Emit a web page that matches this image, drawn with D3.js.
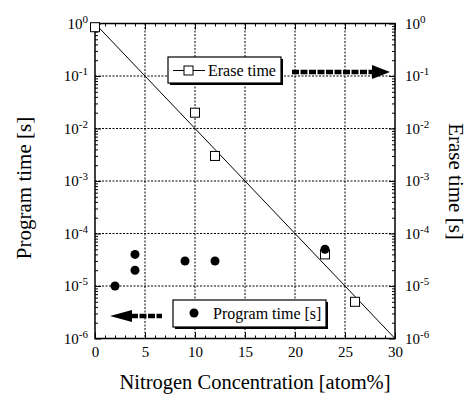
<!DOCTYPE html>
<html>
<head>
<meta charset="utf-8">
<script src="https://cdn.jsdelivr.net/npm/d3@7"></script>
<style>
  body { margin: 0; background: #fff; }
  svg { display: block; }
  svg text { font-family: "Liberation Serif", "Times New Roman", serif; fill: #000; }
</style>
</head>
<body>
<svg id="chart" width="471" height="395"></svg>
<script>
// data
const eraseN = [0, 10, 12, 23, 26];
const eraseTime = [0.85, 0.02, 0.003, 4e-5, 5e-6];
const programN = [2, 4, 4, 9, 12, 23];
const programTime = [1e-5, 4e-5, 2e-5, 3e-5, 3e-5, 5e-5];
const fitN = [0, 30];
const fitTime = [1, 1e-6];
const xTicks = [0, 5, 10, 15, 20, 25, 30];
const yExp = [0, -1, -2, -3, -4, -5, -6];

const FONT = '"Liberation Serif", "Times New Roman", serif';
const svg = d3.select('#chart');
const pLeft = 95, pRight = 395, pTop = 23.5, pBottom = 338.5;

const x = d3.scaleLinear().domain([0, 30]).range([pLeft, pRight]);
const y = d3.scaleLog().domain([1e-6, 1]).range([pBottom, pTop]);

const yMinor = [];
for (let e = -6; e < 0; e++) for (let k = 2; k <= 9; k++) yMinor.push(k * Math.pow(10, e));

// grid
const grid = svg.append('g').attr('stroke', '#000').attr('stroke-width', 1).attr('stroke-dasharray', '2,1.5');
grid.selectAll('.gx').data(xTicks.slice(1, -1)).enter().append('line')
  .attr('x1', d => x(d)).attr('x2', d => x(d)).attr('y1', pTop).attr('y2', pBottom);
grid.selectAll('.gy').data(yExp.slice(1, -1)).enter().append('line')
  .attr('x1', pLeft).attr('x2', pRight).attr('y1', d => y(Math.pow(10, d))).attr('y2', d => y(Math.pow(10, d)));

// axes ticks (inward)
function tickAxis(axis, tf) {
  const g = svg.append('g').attr('transform', tf).call(axis);
  g.select('.domain').remove();
  g.attr('font-family', FONT);
  g.selectAll('line').attr('stroke-width', 1);
  return g;
}
const xb = tickAxis(d3.axisBottom(x).tickValues(xTicks).tickSizeInner(-6).tickSizeOuter(0).tickPadding(8), `translate(0,${pBottom})`);
xb.selectAll('text').attr('font-size', 15).attr('fill', '#000');
tickAxis(d3.axisBottom(x).tickValues(d3.range(0, 31)).tickSize(-3).tickFormat(''), `translate(0,${pBottom})`);
tickAxis(d3.axisTop(x).tickValues(xTicks).tickSize(-6).tickFormat(''), `translate(0,${pTop})`);
tickAxis(d3.axisTop(x).tickValues(d3.range(0, 31)).tickSize(-3).tickFormat(''), `translate(0,${pTop})`);
const yDec = yExp.map(e => Math.pow(10, e));
tickAxis(d3.axisLeft(y).tickValues(yDec).tickSize(-6).tickFormat(''), `translate(${pLeft},0)`);
tickAxis(d3.axisLeft(y).tickValues(yMinor).tickSize(-3).tickFormat(''), `translate(${pLeft},0)`);
tickAxis(d3.axisRight(y).tickValues(yDec).tickSize(-6).tickFormat(''), `translate(${pRight},0)`);
tickAxis(d3.axisRight(y).tickValues(yMinor).tickSize(-3).tickFormat(''), `translate(${pRight},0)`);

// y tick labels with superscripts
function powLabel(xpos, anchor) {
  const t = svg.append('g').selectAll('text').data(yExp).enter().append('text')
    .attr('x', xpos).attr('y', d => y(Math.pow(10, d)) + 5)
    .attr('text-anchor', anchor).attr('font-size', 15);
  t.append('tspan').text('10');
  t.append('tspan').attr('dy', -6).attr('font-size', 11).text(d => d);
}
powLabel(88, 'end');
powLabel(405, 'start');

// frame
svg.append('rect').attr('x', pLeft).attr('y', pTop).attr('width', pRight - pLeft).attr('height', pBottom - pTop)
  .attr('fill', 'none').attr('stroke', '#000').attr('stroke-width', 1.5);

// fit line
svg.append('path').datum(fitN.map((n, i) => [n, fitTime[i]]))
  .attr('d', d3.line().x(d => x(d[0])).y(d => y(d[1])))
  .attr('fill', 'none').attr('stroke', '#000').attr('stroke-width', 1);

// erase time squares
svg.append('g').selectAll('rect').data(eraseN).enter().append('rect')
  .attr('x', (d, i) => x(d) - 4.5).attr('y', (d, i) => y(eraseTime[i]) - 4.5)
  .attr('width', 9).attr('height', 9).attr('fill', '#fff').attr('stroke', '#000').attr('stroke-width', 1);

// program time dots
svg.append('g').selectAll('circle').data(programN).enter().append('circle')
  .attr('cx', d => x(d)).attr('cy', (d, i) => y(programTime[i])).attr('r', 4.5).attr('fill', '#000');

// legend boxes with shadow
function legendBox(bx, by, bw, bh) {
  svg.append('rect').attr('x', bx + 2).attr('y', by + 2).attr('width', bw).attr('height', bh).attr('fill', '#000');
  svg.append('rect').attr('x', bx).attr('y', by).attr('width', bw).attr('height', bh)
    .attr('fill', '#fff').attr('stroke', '#000').attr('stroke-width', 1.2);
}
legendBox(168, 57, 113, 26);
svg.append('line').attr('x1', 173).attr('x2', 205).attr('y1', 70.5).attr('y2', 70.5).attr('stroke', '#000');
svg.append('rect').attr('x', 184).attr('y', 66).attr('width', 9).attr('height', 9).attr('fill', '#fff').attr('stroke', '#000');
svg.append('text').attr('x', 208).attr('y', 76).attr('font-size', 16).text('Erase time');

legendBox(173, 300, 153, 27);
svg.append('circle').attr('cx', 194).attr('cy', 313).attr('r', 4.5).attr('fill', '#000');
svg.append('text').attr('x', 213).attr('y', 319).attr('font-size', 16).text('Program time [s]');

// arrows
svg.append('line').attr('x1', 292).attr('x2', 373).attr('y1', 72).attr('y2', 72)
  .attr('stroke', '#000').attr('stroke-width', 4.5).attr('stroke-dasharray', '7,1.5');
svg.append('path').attr('d', 'M372,65 L390,72 L372,79 Z').attr('fill', '#000');
svg.append('line').attr('x1', 131).attr('x2', 162).attr('y1', 316).attr('y2', 316)
  .attr('stroke', '#000').attr('stroke-width', 4.5).attr('stroke-dasharray', '7,1.5');
svg.append('path').attr('d', 'M132,310 L110,316 L132,322 Z').attr('fill', '#000');

// axis titles
svg.append('text').attr('x', 255).attr('y', 389).attr('text-anchor', 'middle').attr('font-size', 20.5)
  .text('Nitrogen Concentration [atom%]');
svg.append('text').attr('transform', 'translate(31,188) rotate(-90)').attr('text-anchor', 'middle').attr('font-size', 21)
  .text('Program time [s]');
svg.append('text').attr('transform', 'translate(449,181.5) rotate(90)').attr('text-anchor', 'middle').attr('font-size', 21)
  .text('Erase time [s]');
</script>
</body>
</html>
